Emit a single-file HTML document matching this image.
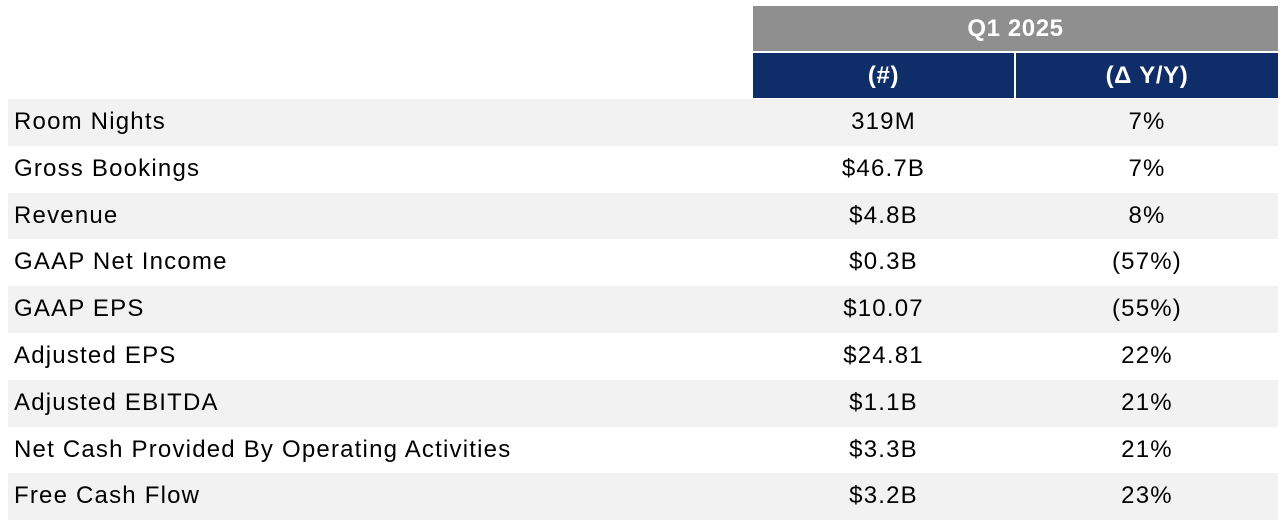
<!DOCTYPE html>
<html><head><meta charset="utf-8"><style>
body{margin:0;width:1282px;height:532px;background:#fff;font-family:"Liberation Sans",Arial,sans-serif;position:relative;overflow:hidden}
.a{position:absolute;box-sizing:border-box}
.h1{left:753px;top:6px;width:525px;height:45px;background:#8f8f8f;color:#fff;font-weight:bold;font-size:24px;letter-spacing:0.6px;line-height:45px;text-align:center}
.n{top:53px;height:45px;background:#0f2d69;color:#fff;font-weight:bold;font-size:24px;letter-spacing:0.6px;line-height:45px;text-align:center}
.r{left:8px;width:1270px;height:46.8px;font-size:24px;letter-spacing:1.2px;color:#000;line-height:46.8px}
.r span{position:absolute}
.l{left:6px}
.c1{left:745px;width:261px;text-align:center}
.c2{left:1008px;width:262px;text-align:center}
</style></head><body>
<div class="a h1">Q1 2025</div>
<div class="a n" style="left:753px;width:261px">(#)</div>
<div class="a n" style="left:1016px;width:262px">(Δ Y/Y)</div>
<div class="a r" style="top:99px;background:#f2f2f2"><span class="l">Room Nights</span><span class="c1">319M</span><span class="c2">7%</span></div>
<div class="a r" style="top:145.8px"><span class="l">Gross Bookings</span><span class="c1">$46.7B</span><span class="c2">7%</span></div>
<div class="a r" style="top:192.6px;background:#f2f2f2"><span class="l">Revenue</span><span class="c1">$4.8B</span><span class="c2">8%</span></div>
<div class="a r" style="top:239.4px"><span class="l">GAAP Net Income</span><span class="c1">$0.3B</span><span class="c2">(57%)</span></div>
<div class="a r" style="top:286.2px;background:#f2f2f2"><span class="l">GAAP EPS</span><span class="c1">$10.07</span><span class="c2">(55%)</span></div>
<div class="a r" style="top:333px"><span class="l">Adjusted EPS</span><span class="c1">$24.81</span><span class="c2">22%</span></div>
<div class="a r" style="top:379.8px;background:#f2f2f2"><span class="l">Adjusted EBITDA</span><span class="c1">$1.1B</span><span class="c2">21%</span></div>
<div class="a r" style="top:426.6px"><span class="l">Net Cash Provided By Operating Activities</span><span class="c1">$3.3B</span><span class="c2">21%</span></div>
<div class="a r" style="top:473.4px;background:#f2f2f2"><span class="l">Free Cash Flow</span><span class="c1">$3.2B</span><span class="c2">23%</span></div>
</body></html>
